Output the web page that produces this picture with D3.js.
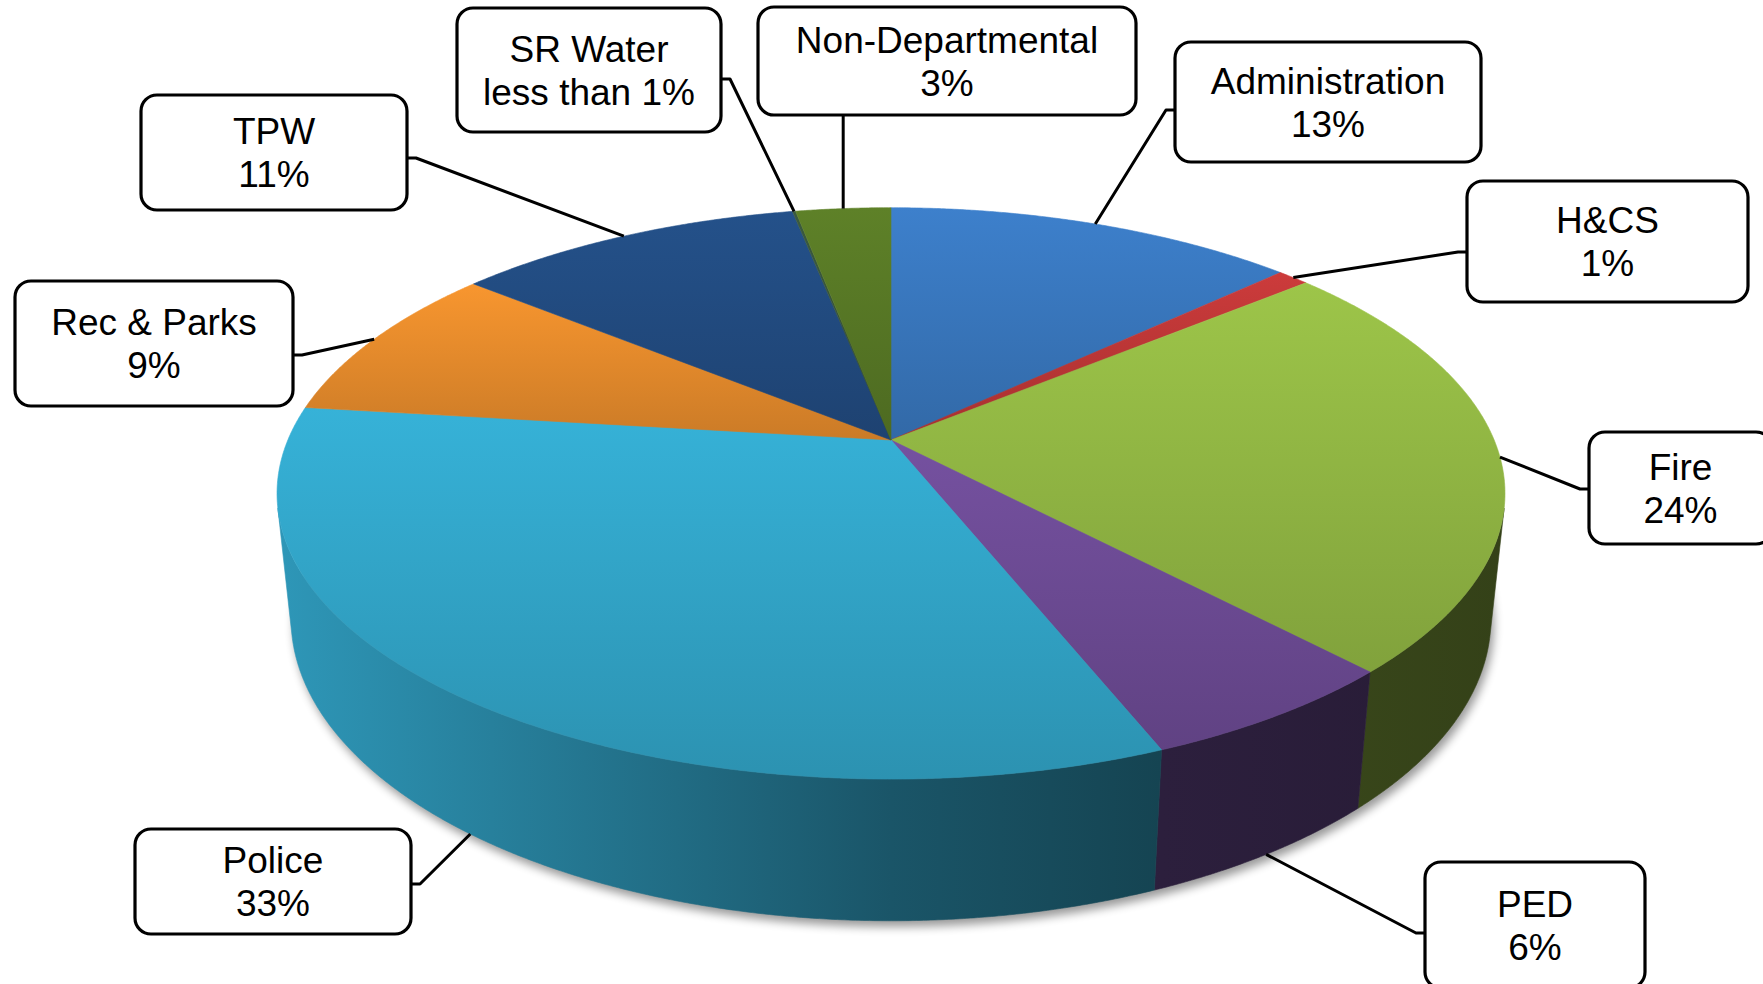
<!DOCTYPE html>
<html>
<head>
<meta charset="utf-8">
<script src="https://cdn.jsdelivr.net/npm/d3@7"></script>
<style>
html, body { margin: 0; padding: 0; background: #fff; overflow: hidden; }
svg { display: block; }
text { font-family: "Liberation Sans", Arial, sans-serif; font-size: 37px; fill: #000; }
</style>
</head>
<body>
<svg id="chart" width="1763" height="984"></svg>
<script>
// budget share by department, clockwise from 12 o'clock
var departments = ["Administration", "H&CS", "Fire", "PED", "Police", "Rec & Parks", "TPW", "SR Water", "Non-Departmental"];
var shares = [13, 1, 24, 6, 33, 9, 11, 0.1, 3];
var shareLabels = ["13%", "1%", "24%", "6%", "33%", "9%", "11%", "less than 1%", "3%"];
var sliceColors = ["#3d80cc", "#cc3b3b", "#9dc549", "#7551a0", "#36b2d8", "#f8962f", "#24518a", "#3a5a40", "#5e8128"];

// callout boxes (layout only)
var boxes = [
  {x0: 1175, y0: 42,  x1: 1481, y1: 162, side: "left",  ly: 110},
  {x0: 1467, y0: 181, x1: 1748, y1: 302, side: "left",  ly: 252},
  {x0: 1589, y0: 432, x1: 1772, y1: 544, side: "left",  ly: 489},
  {x0: 1425, y0: 862, x1: 1645, y1: 988, side: "left",  ly: 933},
  {x0: 135,  y0: 829, x1: 411,  y1: 934, side: "right", ly: 884},
  {x0: 15,   y0: 281, x1: 293,  y1: 406, side: "right", ly: 355},
  {x0: 141,  y0: 95,  x1: 407,  y1: 210, side: "right", ly: 158},
  {x0: 457,  y0: 8,   x1: 721,  y1: 132, side: "right", ly: 79},
  {x0: 758,  y0: 7,   x1: 1136, y1: 115, side: "bottom"}
];

var svg = d3.select("#chart");
var defs = svg.append("defs");

// simple perspective camera looking down at a unit disk
var phi = 27.2 * Math.PI / 180,
    s = Math.sin(phi), c = Math.cos(phi),
    D = 5.35 * c, F = 2870, H = 0.235,
    cx = 891, cy = 440;

function project(theta, h) {
  var x = Math.sin(theta), z = Math.cos(theta);
  var d = D + z * c - h * s;
  var up = h * c + z * s;
  return [cx + F * x / d, cy - F * up / d];
}

function shade(col, k) {
  var r = d3.rgb(col);
  return d3.rgb(r.r * k, r.g * k, r.b * k).formatHex();
}

function arcPoints(a0, a1, h) {
  var n = Math.max(2, Math.ceil((a1 - a0) / 0.005));
  return d3.range(n + 1).map(function(i) { return project(a0 + (a1 - a0) * i / n, h); });
}

var line = d3.line();

var pie = d3.pie().sort(null).startAngle(0).endAngle(2 * Math.PI);
var arcs = pie(shares);

// visible part of the outer wall
var tMin = Math.acos(-1 / (D * c)), tMax = 2 * Math.PI - tMin;

var rim = arcPoints(0, 2 * Math.PI, 0);
var leftX = d3.min(rim, function(p) { return p[0]; });
var rightX = d3.max(rim, function(p) { return p[0]; });

sliceColors.forEach(function(col, i) {
  var g = defs.append("linearGradient").attr("id", "top" + i)
    .attr("x1", 0).attr("y1", 0).attr("x2", 0).attr("y2", 1);
  g.append("stop").attr("offset", "0%").attr("stop-color", col);
  g.append("stop").attr("offset", "100%").attr("stop-color", shade(col, 0.82));

  var w = defs.append("linearGradient").attr("id", "side" + i)
    .attr("gradientUnits", "userSpaceOnUse")
    .attr("x1", leftX).attr("y1", 0).attr("x2", rightX).attr("y2", 0);
  w.append("stop").attr("offset", "0%").attr("stop-color", shade(col, 0.85));
  w.append("stop").attr("offset", "50%").attr("stop-color", shade(col, 0.48));
  w.append("stop").attr("offset", "72%").attr("stop-color", shade(col, 0.38));
  w.append("stop").attr("offset", "100%").attr("stop-color", shade(col, 0.33));
});

defs.append("filter").attr("id", "blur")
  .attr("x", "-10%").attr("y", "-10%").attr("width", "120%").attr("height", "130%")
  .append("feGaussianBlur").attr("stdDeviation", 5);

// drop shadow under the disk
svg.append("path")
  .attr("d", line(arcPoints(0, 2 * Math.PI, -H)) + "Z")
  .attr("transform", "translate(3,6)")
  .attr("fill", "#000")
  .attr("opacity", 0.4)
  .attr("filter", "url(#blur)");

// outer walls
svg.append("g").selectAll("path")
  .data(arcs.filter(function(a) { return a.endAngle > tMin && a.startAngle < tMax; }))
  .enter().append("path")
  .attr("d", function(a) {
    var a0 = Math.max(a.startAngle, tMin), a1 = Math.min(a.endAngle, tMax);
    var pts = arcPoints(a0, a1, 0).concat(arcPoints(a0, a1, -H).reverse());
    return line(pts) + "Z";
  })
  .attr("fill", function(a) { return "url(#side" + a.index + ")"; })
  .attr("stroke", function(a) { return "url(#side" + a.index + ")"; })
  .attr("stroke-width", 0.6);

// top faces
svg.append("g").selectAll("path")
  .data(arcs)
  .enter().append("path")
  .attr("d", function(a) {
    return line([[cx, cy]].concat(arcPoints(a.startAngle, a.endAngle, 0))) + "Z";
  })
  .attr("fill", function(a) { return "url(#top" + a.index + ")"; })
  .attr("stroke", function(a) { return "url(#top" + a.index + ")"; })
  .attr("stroke-width", 0.6);

// leader lines
var leaders = svg.append("g")
  .attr("fill", "none").attr("stroke", "#000").attr("stroke-width", 3)
  .attr("stroke-linejoin", "round");

arcs.forEach(function(a, i) {
  var b = boxes[i];
  var mid = (a.startAngle + a.endAngle) / 2;
  var anchor = project(mid, Math.cos(mid) < -0.3 ? -H : 0);
  var pts;
  if (b.side === "left") pts = [[b.x0, b.ly], [b.x0 - 9, b.ly], anchor];
  else if (b.side === "right") pts = [[b.x1, b.ly], [b.x1 + 9, b.ly], anchor];
  else pts = [[anchor[0], b.y1], anchor];
  leaders.append("path").attr("d", line(pts));
});

// callout boxes
var callouts = svg.append("g").selectAll("g")
  .data(arcs)
  .enter().append("g");

callouts.append("rect")
  .attr("x", function(a) { return boxes[a.index].x0; })
  .attr("y", function(a) { return boxes[a.index].y0; })
  .attr("width", function(a) { return boxes[a.index].x1 - boxes[a.index].x0; })
  .attr("height", function(a) { return boxes[a.index].y1 - boxes[a.index].y0; })
  .attr("rx", 16).attr("ry", 16)
  .attr("fill", "#fff").attr("stroke", "#000").attr("stroke-width", 3.2);

callouts.each(function(a) {
  var b = boxes[a.index];
  var mx = (b.x0 + b.x1) / 2, my = (b.y0 + b.y1) / 2;
  var t = d3.select(this).append("text").attr("text-anchor", "middle");
  t.append("tspan").attr("x", mx).attr("y", my - 21.5 + 13).text(departments[a.index]);
  t.append("tspan").attr("x", mx).attr("y", my + 21.5 + 13).text(shareLabels[a.index]);
});
</script>
</body>
</html>
